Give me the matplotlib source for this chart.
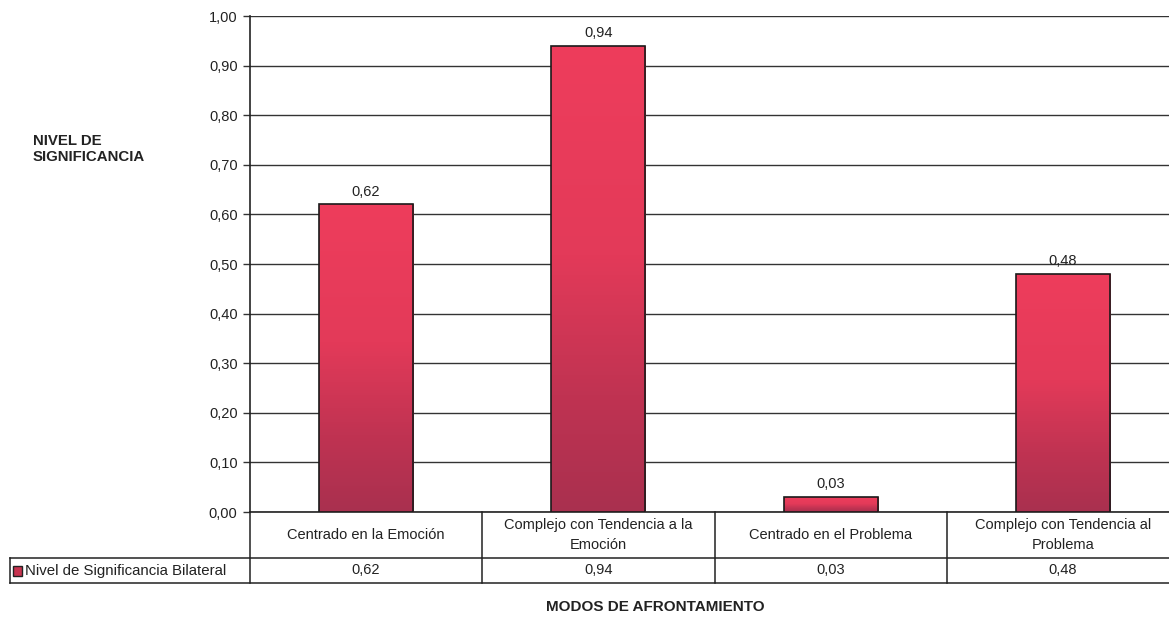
import matplotlib
matplotlib.use("Agg")
import matplotlib.pyplot as plt
import numpy as np
from matplotlib.colors import LinearSegmentedColormap
from matplotlib.transforms import blended_transform_factory
from matplotlib.patches import Rectangle

categories = ["Centrado en la Emoción", "Complejo con Tendencia a la\nEmoción",
              "Centrado en el Problema", "Complejo con Tendencia al\nProblema"]
values = [0.62, 0.94, 0.03, 0.48]
value_labels = ["0,62", "0,94", "0,03", "0,48"]
series_name = "Nivel de Significancia Bilateral"
yticks = [0.0, 0.1, 0.2, 0.3, 0.4, 0.5, 0.6, 0.7, 0.8, 0.9, 1.0]
ytick_labels = ["0,00", "0,10", "0,20", "0,30", "0,40", "0,50", "0,60", "0,70", "0,80", "0,90", "1,00"]
ylabel = "NIVEL DE\nSIGNIFICANCIA"
xlabel = "MODOS DE AFRONTAMIENTO"

plt.rcParams['font.family'] = ['Liberation Sans', 'DejaVu Sans']

W, H = 1169, 620
fig = plt.figure(figsize=(W / 100, H / 100), dpi=100)
ax = fig.add_axes([250 / W, 1 - 512 / H, 929 / W, 496 / H])
ax.set_xlim(-0.5, len(categories) - 0.5)
ax.set_ylim(0, 1.0)

cmap = LinearSegmentedColormap.from_list(
    "g", [(0.0, "#A9304F"), (0.25, "#C03352"), (0.55, "#E33A59"), (1.0, "#EE3D5C")])
grad = np.linspace(0, 1, 256).reshape(-1, 1)
bw = 0.405
x = np.arange(len(categories))
bars = ax.bar(x, values, width=bw, facecolor="none", edgecolor="#1a1a1a", linewidth=1.2, zorder=4)
for b, v in zip(bars, values):
    im = ax.imshow(grad, cmap=cmap, aspect="auto", origin="lower",
                   extent=[b.get_x(), b.get_x() + b.get_width(), 0, v], zorder=3)
    im.set_clip_path(b)
ax.set_xlim(-0.5, len(categories) - 0.5)
ax.set_ylim(0, 1.0)

for xi, v, lab in zip(x, values, value_labels):
    ax.text(xi, v + 0.012, lab, ha="center", va="bottom", fontsize=10.5, color="#222222")

ax.set_yticks(yticks)
ax.set_yticklabels(ytick_labels, fontsize=10.5, color="#222222")
ax.set_xticks([])
ax.yaxis.grid(True, color="#333333", linewidth=1.0)
ax.set_axisbelow(True)
ax.tick_params(axis="y", length=5, width=1, color="#333333", pad=4)
for s in ["top", "right"]:
    ax.spines[s].set_visible(False)
ax.spines["left"].set_color("#222222")
ax.spines["bottom"].set_color("#222222")
ax.spines["left"].set_linewidth(1.2)
ax.spines["bottom"].set_linewidth(1.2)

# data table below
tr = blended_transform_factory(ax.transData, fig.transFigure)
ftr = fig.transFigure
y_top = 1 - 512 / H
y_mid = 1 - 558 / H
y_bot = 1 - 583 / H
lc = "#222222"
for xb in np.arange(-0.5, len(categories) + 0.5, 1.0):
    ax.add_line(plt.Line2D([xb, xb], [y_bot, y_top], transform=tr, color=lc, lw=1.1, clip_on=False))
fig.add_artist(plt.Line2D([10 / W, 1.01], [y_mid, y_mid], transform=ftr, color=lc, lw=1.1))
fig.add_artist(plt.Line2D([10 / W, 1.01], [y_bot, y_bot], transform=ftr, color=lc, lw=1.1))
fig.add_artist(plt.Line2D([10 / W, 10 / W], [y_bot, y_mid], transform=ftr, color=lc, lw=1.1))

for xi, cat, lab in zip(x, categories, value_labels):
    ax.text(xi, (y_top + y_mid) / 2, cat, transform=tr, ha="center", va="center",
            fontsize=10.5, color="#222222", linespacing=1.5, clip_on=False)
    ax.text(xi, (y_mid + y_bot) / 2, lab, transform=tr, ha="center", va="center",
            fontsize=10.5, color="#222222", clip_on=False)

fig.add_artist(Rectangle((13 / W, 1 - 576 / H), 9 / W, 10 / H, transform=ftr,
                         facecolor="#C8334F", edgecolor="#222222", lw=1))
fig.text(25 / W, (y_mid + y_bot) / 2, series_name, ha="left", va="center", fontsize=10.8, color="#222222")

fig.text(33 / W, 1 - 149 / H, ylabel, ha="left", va="center", fontsize=10.8,
         fontweight="bold", color="#222222", linespacing=1.25)
fig.text(655 / W, 1 - 607 / H, xlabel, ha="center", va="center", fontsize=11,
         fontweight="bold", color="#222222")

fig.savefig("out.png", dpi=100)
